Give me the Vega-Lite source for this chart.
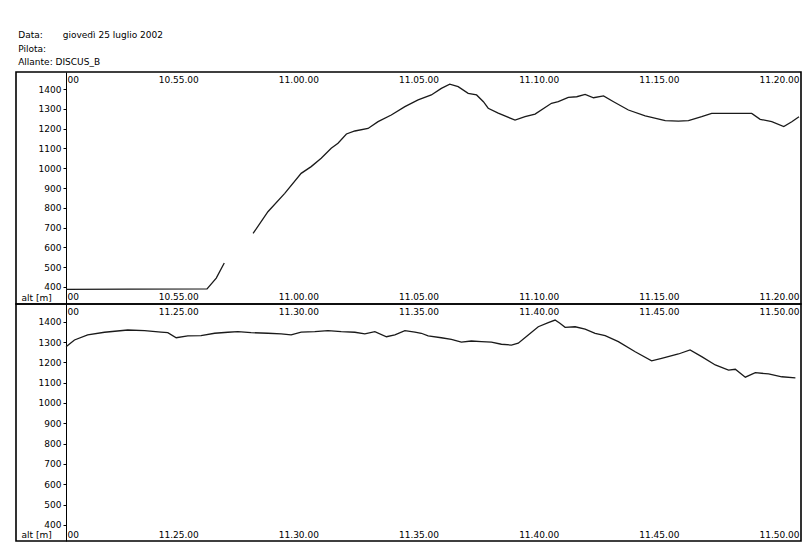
{
  "$schema": "https://vega.github.io/schema/vega-lite/v6.json",
  "padding": {"left": 15, "top": 31, "right": 6, "bottom": 3},
  "background": "white",
  "bounds": "flush",
  "title": {
    "text": ["Data:\u00a0\u00a0\u00a0\u00a0\u00a0\u00a0\u00a0giovedì 25 luglio 2002", "Pilota:", "Allante:\u00a0DISCUS_B"],
    "anchor": "start",
    "font": "DejaVu Sans",
    "fontSize": 9,
    "fontWeight": "normal",
    "lineHeight": 13.5,
    "offset": 4,
    "dx": 3,
    "color": "black"
  },
  "datasets": {
    "flight": [
      {"panel": 1, "seg": 1, "time": "2002-07-25T10:50:20", "alt": 388},
      {"panel": 1, "seg": 1, "time": "2002-07-25T10:53:00", "alt": 389},
      {"panel": 1, "seg": 1, "time": "2002-07-25T10:56:12", "alt": 390},
      {"panel": 1, "seg": 1, "time": "2002-07-25T10:56:35", "alt": 445},
      {"panel": 1, "seg": 1, "time": "2002-07-25T10:56:55", "alt": 521},
      {"panel": 1, "seg": 2, "time": "2002-07-25T10:58:07", "alt": 671},
      {"panel": 1, "seg": 2, "time": "2002-07-25T10:58:44", "alt": 780},
      {"panel": 1, "seg": 2, "time": "2002-07-25T10:59:26", "alt": 873},
      {"panel": 1, "seg": 2, "time": "2002-07-25T11:00:07", "alt": 974},
      {"panel": 1, "seg": 2, "time": "2002-07-25T11:00:32", "alt": 1008},
      {"panel": 1, "seg": 2, "time": "2002-07-25T11:00:57", "alt": 1050},
      {"panel": 1, "seg": 2, "time": "2002-07-25T11:01:22", "alt": 1101},
      {"panel": 1, "seg": 2, "time": "2002-07-25T11:01:39", "alt": 1126},
      {"panel": 1, "seg": 2, "time": "2002-07-25T11:02:00", "alt": 1173},
      {"panel": 1, "seg": 2, "time": "2002-07-25T11:02:21", "alt": 1188},
      {"panel": 1, "seg": 2, "time": "2002-07-25T11:02:54", "alt": 1201},
      {"panel": 1, "seg": 2, "time": "2002-07-25T11:03:19", "alt": 1235},
      {"panel": 1, "seg": 2, "time": "2002-07-25T11:03:52", "alt": 1269},
      {"panel": 1, "seg": 2, "time": "2002-07-25T11:04:26", "alt": 1311},
      {"panel": 1, "seg": 2, "time": "2002-07-25T11:04:59", "alt": 1345},
      {"panel": 1, "seg": 2, "time": "2002-07-25T11:05:32", "alt": 1370},
      {"panel": 1, "seg": 2, "time": "2002-07-25T11:05:57", "alt": 1403},
      {"panel": 1, "seg": 2, "time": "2002-07-25T11:06:18", "alt": 1425},
      {"panel": 1, "seg": 2, "time": "2002-07-25T11:06:39", "alt": 1412},
      {"panel": 1, "seg": 2, "time": "2002-07-25T11:07:04", "alt": 1378},
      {"panel": 1, "seg": 2, "time": "2002-07-25T11:07:25", "alt": 1370},
      {"panel": 1, "seg": 2, "time": "2002-07-25T11:07:42", "alt": 1336},
      {"panel": 1, "seg": 2, "time": "2002-07-25T11:07:54", "alt": 1303},
      {"panel": 1, "seg": 2, "time": "2002-07-25T11:08:19", "alt": 1278},
      {"panel": 1, "seg": 2, "time": "2002-07-25T11:09:01", "alt": 1243},
      {"panel": 1, "seg": 2, "time": "2002-07-25T11:09:26", "alt": 1260},
      {"panel": 1, "seg": 2, "time": "2002-07-25T11:09:51", "alt": 1273},
      {"panel": 1, "seg": 2, "time": "2002-07-25T11:10:32", "alt": 1328},
      {"panel": 1, "seg": 2, "time": "2002-07-25T11:10:49", "alt": 1336},
      {"panel": 1, "seg": 2, "time": "2002-07-25T11:11:14", "alt": 1358},
      {"panel": 1, "seg": 2, "time": "2002-07-25T11:11:35", "alt": 1361},
      {"panel": 1, "seg": 2, "time": "2002-07-25T11:11:56", "alt": 1373},
      {"panel": 1, "seg": 2, "time": "2002-07-25T11:12:17", "alt": 1356},
      {"panel": 1, "seg": 2, "time": "2002-07-25T11:12:42", "alt": 1365},
      {"panel": 1, "seg": 2, "time": "2002-07-25T11:13:07", "alt": 1336},
      {"panel": 1, "seg": 2, "time": "2002-07-25T11:13:44", "alt": 1294},
      {"panel": 1, "seg": 2, "time": "2002-07-25T11:14:26", "alt": 1264},
      {"panel": 1, "seg": 2, "time": "2002-07-25T11:14:42", "alt": 1257},
      {"panel": 1, "seg": 2, "time": "2002-07-25T11:15:16", "alt": 1240},
      {"panel": 1, "seg": 2, "time": "2002-07-25T11:15:49", "alt": 1238},
      {"panel": 1, "seg": 2, "time": "2002-07-25T11:16:14", "alt": 1240},
      {"panel": 1, "seg": 2, "time": "2002-07-25T11:16:47", "alt": 1260},
      {"panel": 1, "seg": 2, "time": "2002-07-25T11:17:12", "alt": 1277},
      {"panel": 1, "seg": 2, "time": "2002-07-25T11:17:54", "alt": 1277},
      {"panel": 1, "seg": 2, "time": "2002-07-25T11:18:52", "alt": 1277},
      {"panel": 1, "seg": 2, "time": "2002-07-25T11:19:13", "alt": 1247},
      {"panel": 1, "seg": 2, "time": "2002-07-25T11:19:42", "alt": 1235},
      {"panel": 1, "seg": 2, "time": "2002-07-25T11:20:12", "alt": 1210},
      {"panel": 1, "seg": 2, "time": "2002-07-25T11:20:32", "alt": 1235},
      {"panel": 1, "seg": 2, "time": "2002-07-25T11:20:50", "alt": 1260},
      {"panel": 2, "seg": 1, "time": "2002-07-25T11:20:20", "alt": 1277},
      {"panel": 2, "seg": 1, "time": "2002-07-25T11:20:41", "alt": 1310},
      {"panel": 2, "seg": 1, "time": "2002-07-25T11:21:14", "alt": 1335},
      {"panel": 2, "seg": 1, "time": "2002-07-25T11:21:56", "alt": 1348},
      {"panel": 2, "seg": 1, "time": "2002-07-25T11:22:54", "alt": 1359},
      {"panel": 2, "seg": 1, "time": "2002-07-25T11:23:36", "alt": 1356},
      {"panel": 2, "seg": 1, "time": "2002-07-25T11:24:17", "alt": 1349},
      {"panel": 2, "seg": 1, "time": "2002-07-25T11:24:34", "alt": 1346},
      {"panel": 2, "seg": 1, "time": "2002-07-25T11:24:55", "alt": 1321},
      {"panel": 2, "seg": 1, "time": "2002-07-25T11:25:24", "alt": 1330},
      {"panel": 2, "seg": 1, "time": "2002-07-25T11:25:57", "alt": 1331},
      {"panel": 2, "seg": 1, "time": "2002-07-25T11:26:31", "alt": 1343},
      {"panel": 2, "seg": 1, "time": "2002-07-25T11:27:04", "alt": 1348},
      {"panel": 2, "seg": 1, "time": "2002-07-25T11:27:29", "alt": 1351},
      {"panel": 2, "seg": 1, "time": "2002-07-25T11:28:02", "alt": 1346},
      {"panel": 2, "seg": 1, "time": "2002-07-25T11:28:44", "alt": 1343},
      {"panel": 2, "seg": 1, "time": "2002-07-25T11:29:17", "alt": 1340},
      {"panel": 2, "seg": 1, "time": "2002-07-25T11:29:42", "alt": 1335},
      {"panel": 2, "seg": 1, "time": "2002-07-25T11:30:07", "alt": 1349},
      {"panel": 2, "seg": 1, "time": "2002-07-25T11:30:41", "alt": 1351},
      {"panel": 2, "seg": 1, "time": "2002-07-25T11:31:14", "alt": 1356},
      {"panel": 2, "seg": 1, "time": "2002-07-25T11:31:47", "alt": 1351},
      {"panel": 2, "seg": 1, "time": "2002-07-25T11:32:21", "alt": 1348},
      {"panel": 2, "seg": 1, "time": "2002-07-25T11:32:46", "alt": 1340},
      {"panel": 2, "seg": 1, "time": "2002-07-25T11:33:11", "alt": 1351},
      {"panel": 2, "seg": 1, "time": "2002-07-25T11:33:40", "alt": 1326},
      {"panel": 2, "seg": 1, "time": "2002-07-25T11:34:01", "alt": 1335},
      {"panel": 2, "seg": 1, "time": "2002-07-25T11:34:26", "alt": 1356},
      {"panel": 2, "seg": 1, "time": "2002-07-25T11:34:51", "alt": 1349},
      {"panel": 2, "seg": 1, "time": "2002-07-25T11:35:07", "alt": 1343},
      {"panel": 2, "seg": 1, "time": "2002-07-25T11:35:24", "alt": 1330},
      {"panel": 2, "seg": 1, "time": "2002-07-25T11:35:57", "alt": 1321},
      {"panel": 2, "seg": 1, "time": "2002-07-25T11:36:22", "alt": 1313},
      {"panel": 2, "seg": 1, "time": "2002-07-25T11:36:47", "alt": 1299},
      {"panel": 2, "seg": 1, "time": "2002-07-25T11:37:12", "alt": 1305},
      {"panel": 2, "seg": 1, "time": "2002-07-25T11:37:37", "alt": 1302},
      {"panel": 2, "seg": 1, "time": "2002-07-25T11:38:02", "alt": 1299},
      {"panel": 2, "seg": 1, "time": "2002-07-25T11:38:27", "alt": 1289},
      {"panel": 2, "seg": 1, "time": "2002-07-25T11:38:52", "alt": 1285},
      {"panel": 2, "seg": 1, "time": "2002-07-25T11:39:09", "alt": 1294},
      {"panel": 2, "seg": 1, "time": "2002-07-25T11:39:34", "alt": 1335},
      {"panel": 2, "seg": 1, "time": "2002-07-25T11:39:59", "alt": 1375},
      {"panel": 2, "seg": 1, "time": "2002-07-25T11:40:24", "alt": 1395},
      {"panel": 2, "seg": 1, "time": "2002-07-25T11:40:41", "alt": 1408},
      {"panel": 2, "seg": 1, "time": "2002-07-25T11:40:53", "alt": 1392},
      {"panel": 2, "seg": 1, "time": "2002-07-25T11:41:06", "alt": 1372},
      {"panel": 2, "seg": 1, "time": "2002-07-25T11:41:31", "alt": 1375},
      {"panel": 2, "seg": 1, "time": "2002-07-25T11:41:56", "alt": 1363},
      {"panel": 2, "seg": 1, "time": "2002-07-25T11:42:21", "alt": 1343},
      {"panel": 2, "seg": 1, "time": "2002-07-25T11:42:46", "alt": 1331},
      {"panel": 2, "seg": 1, "time": "2002-07-25T11:43:19", "alt": 1302},
      {"panel": 2, "seg": 1, "time": "2002-07-25T11:44:01", "alt": 1252},
      {"panel": 2, "seg": 1, "time": "2002-07-25T11:44:42", "alt": 1207},
      {"panel": 2, "seg": 1, "time": "2002-07-25T11:45:07", "alt": 1220},
      {"panel": 2, "seg": 1, "time": "2002-07-25T11:45:49", "alt": 1241},
      {"panel": 2, "seg": 1, "time": "2002-07-25T11:46:18", "alt": 1261},
      {"panel": 2, "seg": 1, "time": "2002-07-25T11:46:47", "alt": 1228},
      {"panel": 2, "seg": 1, "time": "2002-07-25T11:47:21", "alt": 1187},
      {"panel": 2, "seg": 1, "time": "2002-07-25T11:47:54", "alt": 1162},
      {"panel": 2, "seg": 1, "time": "2002-07-25T11:48:11", "alt": 1166},
      {"panel": 2, "seg": 1, "time": "2002-07-25T11:48:36", "alt": 1127},
      {"panel": 2, "seg": 1, "time": "2002-07-25T11:49:01", "alt": 1149},
      {"panel": 2, "seg": 1, "time": "2002-07-25T11:49:34", "alt": 1143},
      {"panel": 2, "seg": 1, "time": "2002-07-25T11:50:07", "alt": 1129},
      {"panel": 2, "seg": 1, "time": "2002-07-25T11:50:41", "alt": 1124}
    ]
  },
  "data": {"name": "flight"},
  "spacing": 0,
  "vconcat": [
    {
      "width": 785,
      "height": 232,
      "transform": [{"filter": "datum.panel == 1"}],
      "encoding": {
        "y": {
          "field": "alt", "type": "quantitative",
          "scale": {"domain": [314, 1486], "nice": false, "zero": false},
          "axis": {
            "orient": "left", "offset": -50, "format": "d",
            "values": [400, 500, 600, 700, 800, 900, 1000, 1100, 1200, 1300, 1400],
            "labelOverlap": false, "labelFlush": false,
            "tickSize": 3, "labelPadding": 2, "grid": false,
            "title": "alt [m]", "titleAngle": 0, "titleX": -45, "titleY": 228,
            "titleAlign": "left", "titleBaseline": "alphabetic"
          }
        },
        "detail": {"field": "seg", "type": "nominal"}
      },
      "layer": [
        {
          "mark": {"type": "line", "color": "#1a1a1a", "strokeWidth": 1.3, "clip": true},
          "encoding": {
            "x": {
              "field": "time", "type": "temporal",
              "scale": {"domain": [
                {"year": 2002, "month": 7, "date": 25, "hours": 10, "minutes": 48, "seconds": 15},
                {"year": 2002, "month": 7, "date": 25, "hours": 11, "minutes": 20, "seconds": 55}
              ]},
              "axis": {
                "orient": "top",
                "values": [
                  {"year": 2002, "month": 7, "date": 25, "hours": 10, "minutes": 50},
                  {"year": 2002, "month": 7, "date": 25, "hours": 10, "minutes": 55},
                  {"year": 2002, "month": 7, "date": 25, "hours": 11, "minutes": 0},
                  {"year": 2002, "month": 7, "date": 25, "hours": 11, "minutes": 5},
                  {"year": 2002, "month": 7, "date": 25, "hours": 11, "minutes": 10},
                  {"year": 2002, "month": 7, "date": 25, "hours": 11, "minutes": 15},
                  {"year": 2002, "month": 7, "date": 25, "hours": 11, "minutes": 20}
                ],
                "labelExpr": "hours(datum.value) == 10 && minutes(datum.value) == 50 ? '00' : timeFormat(datum.value, '%H.%M.%S')",
                "labelAlign": {"condition": {"test": "hours(datum.value) == 10 && minutes(datum.value) == 50", "value": "left"}, "value": "center"},
                "labelOffset": {"condition": {"test": "hours(datum.value) == 10 && minutes(datum.value) == 50", "value": 9}, "value": 0},
                "labelBaseline": "top",
                "labelPadding": -3,
                "ticks": false, "tickSize": 0, "domain": false, "grid": false,
                "labelFlush": false, "labelOverlap": false, "labelBound": false,
                "title": null
              }
            }
          }
        },
        {
          "mark": {"type": "line", "opacity": 0, "clip": true},
          "encoding": {
            "x": {
              "field": "time", "type": "temporal",
              "scale": {"domain": [
                {"year": 2002, "month": 7, "date": 25, "hours": 10, "minutes": 48, "seconds": 15},
                {"year": 2002, "month": 7, "date": 25, "hours": 11, "minutes": 20, "seconds": 55}
              ]},
              "axis": {
                "orient": "bottom",
                "values": [
                  {"year": 2002, "month": 7, "date": 25, "hours": 10, "minutes": 50},
                  {"year": 2002, "month": 7, "date": 25, "hours": 10, "minutes": 55},
                  {"year": 2002, "month": 7, "date": 25, "hours": 11, "minutes": 0},
                  {"year": 2002, "month": 7, "date": 25, "hours": 11, "minutes": 5},
                  {"year": 2002, "month": 7, "date": 25, "hours": 11, "minutes": 10},
                  {"year": 2002, "month": 7, "date": 25, "hours": 11, "minutes": 15},
                  {"year": 2002, "month": 7, "date": 25, "hours": 11, "minutes": 20}
                ],
                "labelExpr": "hours(datum.value) == 10 && minutes(datum.value) == 50 ? '00' : timeFormat(datum.value, '%H.%M.%S')",
                "labelAlign": {"condition": {"test": "hours(datum.value) == 10 && minutes(datum.value) == 50", "value": "left"}, "value": "center"},
                "labelOffset": {"condition": {"test": "hours(datum.value) == 10 && minutes(datum.value) == 50", "value": 9}, "value": 0},
                "labelBaseline": "bottom",
                "labelPadding": -3,
                "ticks": false, "tickSize": 0, "domain": false, "grid": false,
                "labelFlush": false, "labelOverlap": false, "labelBound": false,
                "title": null
              }
            }
          }
        }
      ],
      "resolve": {"axis": {"x": "independent"}}
    },
    {
      "width": 785,
      "height": 237,
      "transform": [{"filter": "datum.panel == 2"}],
      "encoding": {
        "y": {
          "field": "alt", "type": "quantitative",
          "scale": {"domain": [321, 1487], "nice": false, "zero": false},
          "axis": {
            "orient": "left", "offset": -50, "format": "d",
            "values": [400, 500, 600, 700, 800, 900, 1000, 1100, 1200, 1300, 1400],
            "labelOverlap": false, "labelFlush": false,
            "tickSize": 3, "labelPadding": 2, "grid": false,
            "title": "alt [m]", "titleAngle": 0, "titleX": -45, "titleY": 233,
            "titleAlign": "left", "titleBaseline": "alphabetic"
          }
        },
        "detail": {"field": "seg", "type": "nominal"}
      },
      "layer": [
        {
          "mark": {"type": "line", "color": "#1a1a1a", "strokeWidth": 1.3, "clip": true},
          "encoding": {
            "x": {
              "field": "time", "type": "temporal",
              "scale": {"domain": [
                {"year": 2002, "month": 7, "date": 25, "hours": 11, "minutes": 18, "seconds": 15},
                {"year": 2002, "month": 7, "date": 25, "hours": 11, "minutes": 50, "seconds": 55}
              ]},
              "axis": {
                "orient": "top",
                "values": [
                  {"year": 2002, "month": 7, "date": 25, "hours": 11, "minutes": 20},
                  {"year": 2002, "month": 7, "date": 25, "hours": 11, "minutes": 25},
                  {"year": 2002, "month": 7, "date": 25, "hours": 11, "minutes": 30},
                  {"year": 2002, "month": 7, "date": 25, "hours": 11, "minutes": 35},
                  {"year": 2002, "month": 7, "date": 25, "hours": 11, "minutes": 40},
                  {"year": 2002, "month": 7, "date": 25, "hours": 11, "minutes": 45},
                  {"year": 2002, "month": 7, "date": 25, "hours": 11, "minutes": 50}
                ],
                "labelExpr": "minutes(datum.value) == 20 ? '00' : timeFormat(datum.value, '%H.%M.%S')",
                "labelAlign": {"condition": {"test": "minutes(datum.value) == 20", "value": "left"}, "value": "center"},
                "labelOffset": {"condition": {"test": "minutes(datum.value) == 20", "value": 9}, "value": 0},
                "labelBaseline": "top",
                "labelPadding": -3,
                "ticks": false, "tickSize": 0, "domain": false, "grid": false,
                "labelFlush": false, "labelOverlap": false, "labelBound": false,
                "title": null
              }
            }
          }
        },
        {
          "mark": {"type": "line", "opacity": 0, "clip": true},
          "encoding": {
            "x": {
              "field": "time", "type": "temporal",
              "scale": {"domain": [
                {"year": 2002, "month": 7, "date": 25, "hours": 11, "minutes": 18, "seconds": 15},
                {"year": 2002, "month": 7, "date": 25, "hours": 11, "minutes": 50, "seconds": 55}
              ]},
              "axis": {
                "orient": "bottom",
                "values": [
                  {"year": 2002, "month": 7, "date": 25, "hours": 11, "minutes": 20},
                  {"year": 2002, "month": 7, "date": 25, "hours": 11, "minutes": 25},
                  {"year": 2002, "month": 7, "date": 25, "hours": 11, "minutes": 30},
                  {"year": 2002, "month": 7, "date": 25, "hours": 11, "minutes": 35},
                  {"year": 2002, "month": 7, "date": 25, "hours": 11, "minutes": 40},
                  {"year": 2002, "month": 7, "date": 25, "hours": 11, "minutes": 45},
                  {"year": 2002, "month": 7, "date": 25, "hours": 11, "minutes": 50}
                ],
                "labelExpr": "minutes(datum.value) == 20 ? '00' : timeFormat(datum.value, '%H.%M.%S')",
                "labelAlign": {"condition": {"test": "minutes(datum.value) == 20", "value": "left"}, "value": "center"},
                "labelOffset": {"condition": {"test": "minutes(datum.value) == 20", "value": 9}, "value": 0},
                "labelBaseline": "bottom",
                "labelPadding": -2,
                "ticks": false, "tickSize": 0, "domain": false, "grid": false,
                "labelFlush": false, "labelOverlap": false, "labelBound": false,
                "title": null
              }
            }
          }
        }
      ],
      "resolve": {"axis": {"x": "independent"}}
    }
  ],
  "config": {
    "view": {"stroke": "black", "strokeWidth": 1.6},
    "font": "DejaVu Sans",
    "axis": {
      "labelFont": "DejaVu Sans", "labelFontSize": 9, "labelColor": "black",
      "titleFont": "DejaVu Sans", "titleFontSize": 9, "titleFontWeight": "normal", "titleColor": "black",
      "domainColor": "black", "tickColor": "black", "domainWidth": 1
    }
  }
}
